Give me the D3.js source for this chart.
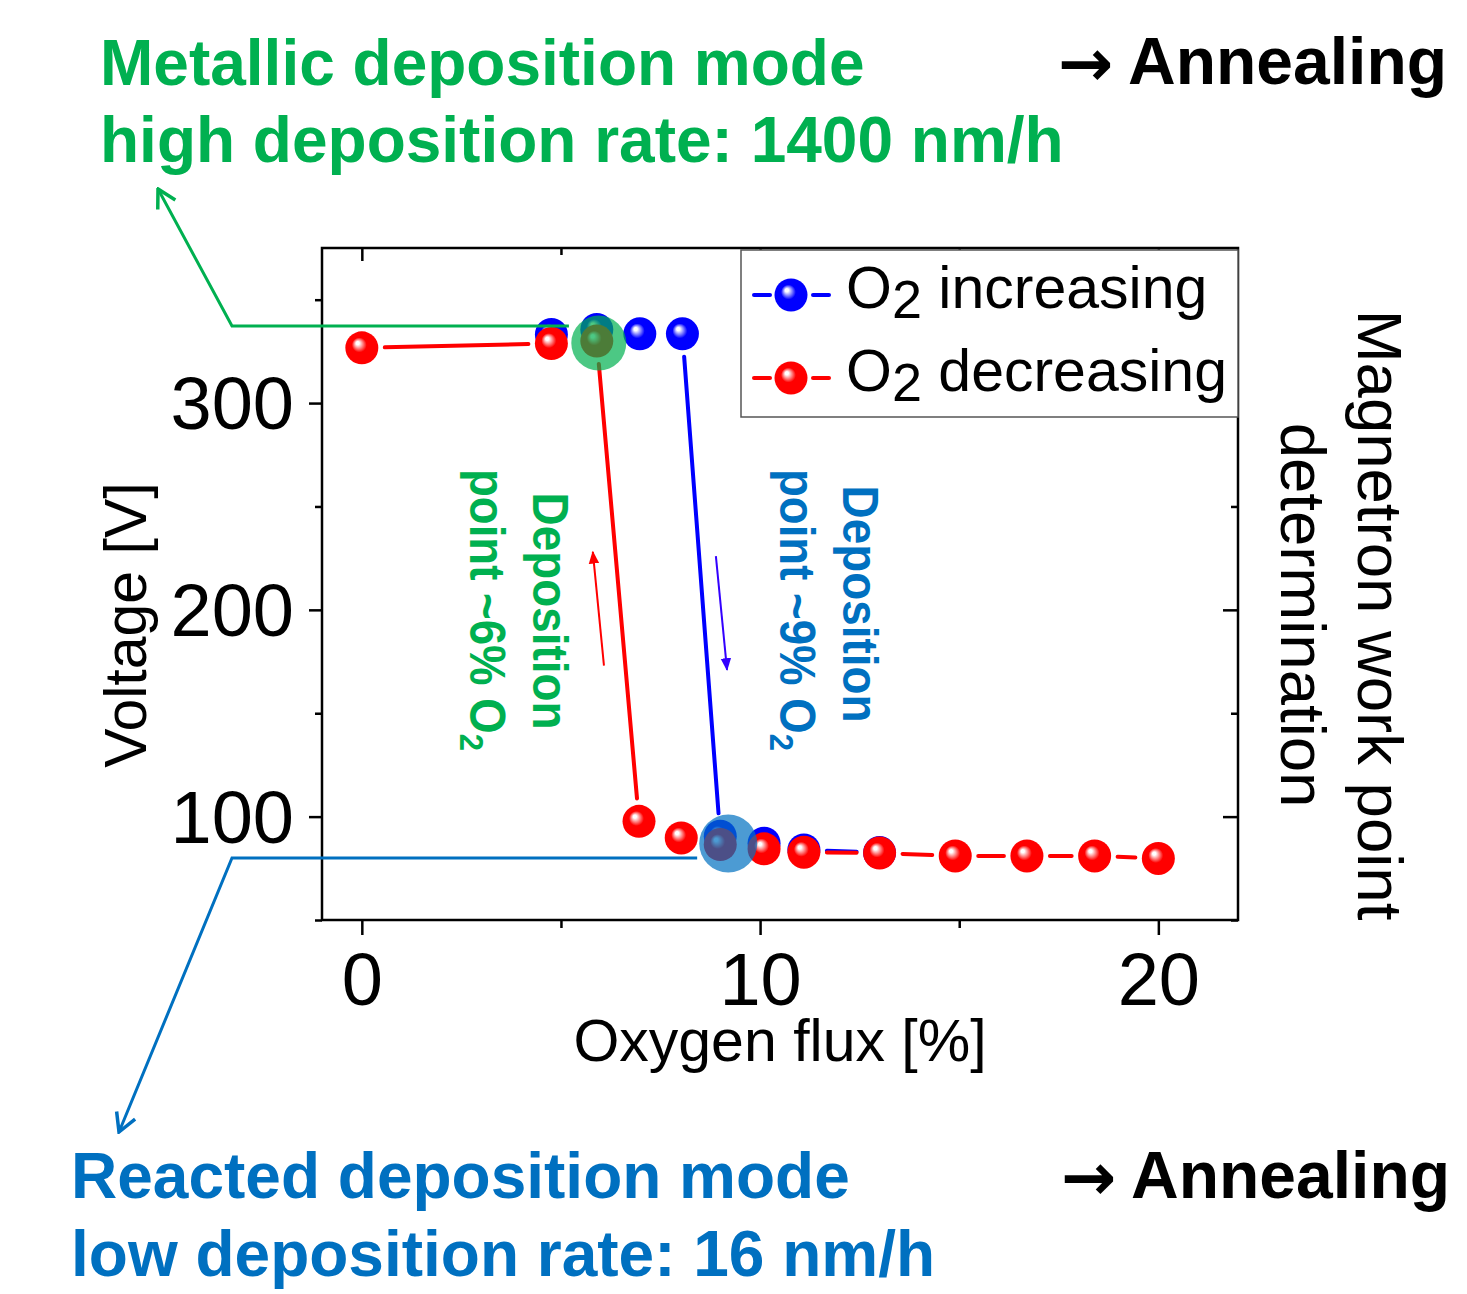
<!DOCTYPE html>
<html>
<head>
<meta charset="utf-8">
<script src="https://cdn.jsdelivr.net/npm/d3@7"></script>
<style>
    body { margin: 0; background: #fff; }
    text { font-family: "Liberation Sans", Arial, sans-serif; }
</style>
</head>
<body>
<svg id="chart" width="1467" height="1294"></svg>
<script>
// Oxygen flux [%] and voltage [V]
const fluxIncreasing = [4.76, 5.9, 6.98, 8.05, 9.0, 10.1, 11.1, 13.0];
const voltIncreasing = [333.2, 335.6, 333.5, 333.5, 90.5, 87.1, 83.9, 82.6];
const fluxDecreasing = [0, 4.76, 5.9, 6.96, 8.02, 9.0, 10.1, 11.1, 13.0, 14.9, 16.7, 18.4, 20.0];
const voltDecreasing = [326.7, 328.8, 330.0, 97.7, 89.7, 86.5, 84.4, 82.8, 82.4, 81.0, 81.0, 81.0, 79.8];

const xMajor = [0, 10, 20];
const xMinor = [5, 15];
const yMajor = [100, 200, 300];
const yMinor = [50, 150, 250, 350];

const seriesNames = ["O2 increasing", "O2 decreasing"];

const svg = d3.select("#chart");
const plot = { left: 322, right: 1238, top: 248, bottom: 920 };

const x = d3.scaleLinear().domain([-1, 22]).range([plot.left, plot.right]);
const y = d3.scaleLinear().domain([50, 375]).range([plot.bottom, plot.top]);

// gradients for the shiny balls
const defs = svg.append("defs");
function ballGradient(id, color) {
    const g = defs.append("radialGradient")
        .attr("id", id)
        .attr("cx", "50%").attr("cy", "50%").attr("r", "50%")
        .attr("fx", "36%").attr("fy", "34%");
    g.append("stop").attr("offset", "0%").attr("stop-color", "#fff");
    g.append("stop").attr("offset", "10%").attr("stop-color", "#fff");
    g.append("stop").attr("offset", "45%").attr("stop-color", color);
    g.append("stop").attr("offset", "100%").attr("stop-color", color);
}
ballGradient("ballBlue", "#0000ff");
ballGradient("ballRed", "#ff0000");

function arrowMarker(id, color, open) {
    const m = defs.append("marker")
        .attr("id", id)
        .attr("markerUnits", "userSpaceOnUse")
        .attr("viewBox", "0 0 24 24")
        .attr("refX", open ? 22 : 20).attr("refY", 12)
        .attr("markerWidth", open ? 24 : 14).attr("markerHeight", open ? 24 : 14)
        .attr("orient", "auto");
    if (open) {
        m.append("path").attr("d", "M4,2 L22,12 L4,22")
            .attr("fill", "none").attr("stroke", color).attr("stroke-width", 3.5);
    } else {
        m.append("path").attr("d", "M0,3 L22,12 L0,21 Z").attr("fill", color);
    }
}
arrowMarker("openGreen", "#00b050", true);
arrowMarker("openBlue", "#0070c0", true);
arrowMarker("fillRed", "#ff0000", false);
arrowMarker("fillBlue", "#3300ff", false);

// axes: major + minor ticks on all four sides
const tickFont = "74px";
function styleAxis(g) {
    g.select(".domain").remove();
    g.selectAll(".tick line").attr("stroke", "#000").attr("stroke-width", 2.5);
    g.selectAll(".tick text").style("font-size", tickFont).attr("fill", "#000");
}

svg.append("g")
    .attr("transform", `translate(0,${plot.bottom})`)
    .call(d3.axisBottom(x).tickValues(xMajor).tickSize(15).tickPadding(17).tickFormat(d3.format("d")))
    .call(styleAxis);
svg.append("g")
    .attr("transform", `translate(0,${plot.bottom})`)
    .call(d3.axisBottom(x).tickValues(xMinor).tickSize(8).tickFormat(""))
    .call(styleAxis);
svg.append("g")
    .attr("transform", `translate(0,${plot.top})`)
    .call(d3.axisBottom(x).tickValues(xMajor).tickSize(13).tickFormat(""))
    .call(styleAxis);
svg.append("g")
    .attr("transform", `translate(0,${plot.top})`)
    .call(d3.axisBottom(x).tickValues(xMinor).tickSize(7).tickFormat(""))
    .call(styleAxis);

svg.append("g")
    .attr("transform", `translate(${plot.left},0)`)
    .call(d3.axisLeft(y).tickValues(yMajor).tickSize(13).tickPadding(15).tickFormat(d3.format("d")))
    .call(styleAxis)
    .selectAll(".tick text").attr("dy", "0.35em");
svg.append("g")
    .attr("transform", `translate(${plot.left},0)`)
    .call(d3.axisLeft(y).tickValues(yMinor).tickSize(7).tickFormat(""))
    .call(styleAxis);
svg.append("g")
    .attr("transform", `translate(${plot.right},0)`)
    .call(d3.axisLeft(y).tickValues(yMajor).tickSize(15).tickFormat(""))
    .call(styleAxis);
svg.append("g")
    .attr("transform", `translate(${plot.right},0)`)
    .call(d3.axisLeft(y).tickValues(yMinor).tickSize(7).tickFormat(""))
    .call(styleAxis);

// Frame
svg.append("rect")
    .attr("x", plot.left).attr("y", plot.top)
    .attr("width", plot.right - plot.left).attr("height", plot.bottom - plot.top)
    .attr("fill", "none").attr("stroke", "#000").attr("stroke-width", 2.5);

// Axis titles
svg.append("text")
    .attr("x", 780).attr("y", 1061)
    .attr("text-anchor", "middle")
    .style("font-size", "59px")
    .text("Oxygen flux [%]");

svg.append("text")
    .attr("transform", "translate(146,625) rotate(-90)")
    .attr("text-anchor", "middle")
    .style("font-size", "59px")
    .text("Voltage [V]");

// Lines with gaps around the symbols (Origin style)
const gap = 23;
function drawSeries(fluxes, volts, color, grad) {
    const pts = fluxes.map((f, i) => [x(f), y(volts[i])]);
    const segs = [];
    for (let i = 0; i < pts.length - 1; i++) {
        const [x0, y0] = pts[i], [x1, y1] = pts[i + 1];
        const len = Math.hypot(x1 - x0, y1 - y0);
        if (len <= 2 * gap + 4) continue;
        const ux = (x1 - x0) / len, uy = (y1 - y0) / len;
        segs.push([x0 + ux * gap, y0 + uy * gap, x1 - ux * gap, y1 - uy * gap]);
    }
    svg.append("g").selectAll("line")
        .data(segs)
        .enter()
        .append("line")
        .attr("x1", d => d[0]).attr("y1", d => d[1])
        .attr("x2", d => d[2]).attr("y2", d => d[3])
        .attr("stroke", color).attr("stroke-width", 4).attr("stroke-linecap", "round");

    svg.append("g").selectAll("circle")
        .data(pts)
        .enter()
        .append("circle")
        .attr("cx", d => d[0]).attr("cy", d => d[1])
        .attr("r", 16.5)
        .attr("fill", `url(#${grad})`);
}
drawSeries(fluxIncreasing, voltIncreasing, "#0000ff", "ballBlue");
drawSeries(fluxDecreasing, voltDecreasing, "#ff0000", "ballRed");

// Highlighted work points
svg.append("circle")
    .attr("cx", x(5.95)).attr("cy", y(329))
    .attr("r", 27.5)
    .attr("fill", "#00b050").attr("fill-opacity", 0.7);
svg.append("circle")
    .attr("cx", x(9.2)).attr("cy", y(87))
    .attr("r", 29)
    .attr("fill", "#0070c0").attr("fill-opacity", 0.7);

// Callout lines to the mode texts
svg.append("path")
    .attr("d", `M${x(5.2)},326 L232,326 L158,189`)
    .attr("fill", "none").attr("stroke", "#00b050").attr("stroke-width", 3)
    .attr("marker-end", "url(#openGreen)");
svg.append("path")
    .attr("d", `M${x(8.42)},858 L232,858 L119,1132`)
    .attr("fill", "none").attr("stroke", "#0070c0").attr("stroke-width", 3)
    .attr("marker-end", "url(#openBlue)");

// Direction arrows
svg.append("line")
    .attr("x1", x(6.08)).attr("y1", y(173))
    .attr("x2", x(5.80)).attr("y2", y(228))
    .attr("stroke", "#ff0000").attr("stroke-width", 2)
    .attr("marker-end", "url(#fillRed)");
svg.append("line")
    .attr("x1", x(8.89)).attr("y1", y(226))
    .attr("x2", x(9.17)).attr("y2", y(171))
    .attr("stroke", "#3300ff").attr("stroke-width", 2)
    .attr("marker-end", "url(#fillBlue)");

// Rotated deposition point annotations
function vText(tx, ty, color, content, len) {
    const t = svg.append("text")
        .attr("transform", `translate(${tx},${ty}) rotate(90)`)
        .attr("text-anchor", "middle")
        .attr("fill", color)
        .style("font-size", "50px")
        .style("font-weight", "bold")
        .attr("textLength", len)
        .attr("lengthAdjust", "spacingAndGlyphs");
    t.append("tspan").text(content);
    return t;
}
vText(533, 611, "#00b050", "Deposition", 237);
vText(470, 610, "#00b050", "point ~6% O", 282)
    .append("tspan").attr("dy", 10).style("font-size", "34px").text("2");
vText(843, 604, "#0070c0", "Deposition", 237);
vText(780, 610, "#0070c0", "point ~9% O", 282)
    .append("tspan").attr("dy", 10).style("font-size", "34px").text("2");

// Right side label
svg.append("text")
    .attr("transform", "translate(1358,615) rotate(90)")
    .attr("text-anchor", "middle")
    .style("font-size", "63.5px")
    .text("Magnetron work point");
svg.append("text")
    .attr("transform", "translate(1281,615) rotate(90)")
    .attr("text-anchor", "middle")
    .style("font-size", "63.5px")
    .text("determination");

// Legend
const legend = svg.append("g");
legend.append("rect")
    .attr("x", 741).attr("y", 250)
    .attr("width", 497).attr("height", 167)
    .attr("fill", "#fff").attr("stroke", "#555").attr("stroke-width", 1.5);
const legendRows = [
    { name: seriesNames[0], color: "#0000ff", grad: "ballBlue", cy: 295 },
    { name: seriesNames[1], color: "#ff0000", grad: "ballRed", cy: 378 }
];
legendRows.forEach(r => {
    legend.append("line").attr("x1", 754).attr("x2", 770).attr("y1", r.cy).attr("y2", r.cy)
        .attr("stroke", r.color).attr("stroke-width", 4).attr("stroke-linecap", "round");
    legend.append("line").attr("x1", 813).attr("x2", 829).attr("y1", r.cy).attr("y2", r.cy)
        .attr("stroke", r.color).attr("stroke-width", 4).attr("stroke-linecap", "round");
    legend.append("circle").attr("cx", 791).attr("cy", r.cy).attr("r", 16.5)
        .attr("fill", `url(#${r.grad})`);
    const t = legend.append("text")
        .attr("x", 846).attr("y", r.cy + 13)
        .style("font-size", "59px");
    t.append("tspan").text("O");
    t.append("tspan").attr("dy", 10).style("font-size", "54px").text("2");
    t.append("tspan").attr("dy", -10).text(r.name.slice(2));
});

// Mode descriptions
const titleSize = "64px";
svg.append("text").attr("x", 100).attr("y", 85)
    .attr("fill", "#00b050").style("font-size", titleSize).style("font-weight", "bold")
    .text("Metallic deposition mode");
svg.append("text").attr("x", 100).attr("y", 162)
    .attr("fill", "#00b050").style("font-size", titleSize).style("font-weight", "bold")
    .text("high deposition rate: 1400 nm/h");
svg.append("text").attr("x", 71).attr("y", 1198)
    .attr("fill", "#0070c0").style("font-size", titleSize).style("font-weight", "bold")
    .text("Reacted deposition mode");
svg.append("text").attr("x", 71).attr("y", 1276)
    .attr("fill", "#0070c0").style("font-size", titleSize).style("font-weight", "bold")
    .text("low deposition rate: 16 nm/h");

[[1058, 1128, 86, 84], [1061, 1131, 1200, 1198]].forEach(([ax, tx, ay, by]) => {
    svg.append("text").attr("x", ax).attr("y", ay)
        .style("font-family", "'DejaVu Sans', sans-serif")
        .style("font-size", "66px").style("font-weight", "bold")
        .text("→");
    svg.append("text").attr("x", tx).attr("y", by)
        .style("font-size", "66px").style("font-weight", "bold")
        .text("Annealing");
});
</script>
</body>
</html>
